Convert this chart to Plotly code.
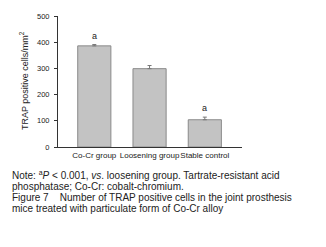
import plotly.graph_objects as go

categories = ["Co-Cr group", "Loosening group", "Stable control"]
values = [386, 299, 104]
errors = [5, 12, 10]
sig_labels = ["a", "", "a"]
y_ticks = [0, 100, 200, 300, 400, 500]

FONT = "Liberation Sans, Arial, sans-serif"

W, H = 326, 247
ML, MR, MT, MB = 58, 84, 16, 100
pw, ph = W - ML - MR, H - MT - MB

def px2paper_x(px):
    return (px - ML) / pw

def px2paper_y(py):
    return (H - MB - py) / ph

fig = go.Figure()
fig.add_trace(go.Bar(
    x=categories, y=values,
    width=0.6,
    marker=dict(color="#c3c3c3", line=dict(color="#8a8a8a", width=1)),
    error_y=dict(type="data", array=errors, arrayminus=[0]*len(errors),
                 symmetric=False, color="#777777", thickness=1, width=2),
    showlegend=False,
))

annotations = []
for c, v, e, s in zip(categories, values, errors, sig_labels):
    if s:
        annotations.append(dict(x=c, y=v + e, xref="x", yref="y", text=s,
                                showarrow=False, yanchor="bottom", yshift=2,
                                font=dict(family=FONT, size=9, color="#222")))

annotations.append(dict(x=px2paper_x(24), y=px2paper_y(81), xref="paper", yref="paper",
                        xanchor="center", yanchor="middle",
                        text="TRAP positive cells/mm<sup>2</sup>",
                        showarrow=False, textangle=-90, font=dict(family=FONT, size=9, color="#222")))

caption_lines = [
    "Note: <sup>a</sup><i>P</i> &lt; 0.001, <i>vs</i>. loosening group. Tartrate-resistant acid",
    "phosphatase; Co-Cr: cobalt-chromium.",
    "Figure 7\u00a0\u00a0\u00a0\u00a0Number of TRAP positive cells in the joint prosthesis",
    "mice treated with particulate form of Co-Cr alloy",
]

for i, line in enumerate(caption_lines):
    annotations.append(dict(x=px2paper_x(10), y=px2paper_y(175 + 11 * i), xref="paper", yref="paper",
                            text=line, showarrow=False, xanchor="left", yanchor="middle",
                            font=dict(family=FONT, size=10, color="#222")))

fig.update_layout(
    width=W, height=H,
    margin=dict(l=ML, r=MR, t=MT, b=MB),
    paper_bgcolor="white", plot_bgcolor="white",
    annotations=annotations,
    xaxis=dict(range=[-0.657, 2.673], showline=True, linecolor="#333", linewidth=1,
               ticks="", showgrid=False, zeroline=False, tickangle=0,
               tickfont=dict(family=FONT, size=8, color="#222")),
    yaxis=dict(range=[0, 500], tickvals=y_ticks, showline=True, linecolor="#333", linewidth=1,
               ticks="outside", ticklen=3, tickcolor="#333", showgrid=False, zeroline=False,
               ticklabelstandoff=3,
               tickfont=dict(family=FONT, size=7.5, color="#222")),
)

fig.write_html("out.html", config={"displayModeBar": False},
               post_script="document.body.style.margin='0';")
